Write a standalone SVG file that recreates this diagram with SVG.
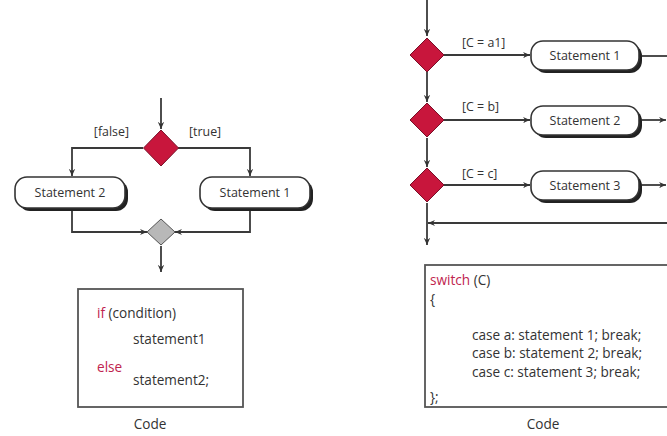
<svg xmlns="http://www.w3.org/2000/svg" width="667" height="436" viewBox="0 0 667 436">
<defs>
<marker id="ah" viewBox="0 0 10 10" refX="9" refY="5" markerWidth="8" markerHeight="8" orient="auto" markerUnits="userSpaceOnUse">
<path d="M0,1 L9,5 L0,9 L3,5 Z" fill="#333"/>
</marker>
<style>
.ln{fill:none;stroke:#3a3a3a;stroke-width:1.8}
.box{fill:#fff;stroke:#333;stroke-width:1.6}
.sh{fill:#222}
.red{fill:#c8163c;stroke:#7a1028;stroke-width:1}
.gray{fill:#b8b8b8;stroke:#555;stroke-width:1}
text{font-family:"Open Sans","Noto Sans","Liberation Sans",sans-serif;font-size:12.4px;fill:#333}
.kw{fill:#c0244e}
.lbl{text-anchor:middle;font-size:12.5px}
.cd{font-size:13.6px}
.code{fill:#fff;stroke:#555;stroke-width:1.8}
</style>
</defs>
<rect width="667" height="436" fill="#fff"/>
<g id="connectors">
<line class="ln" x1="161" y1="98" x2="161" y2="129" marker-end="url(#ah)"/>
<polyline class="ln" points="143,148 72,148 72,176" marker-end="url(#ah)"/>
<polyline class="ln" points="178,148 250,148 250,176" marker-end="url(#ah)"/>
<polyline class="ln" points="72,208 72,232 147,232" marker-end="url(#ah)"/>
<polyline class="ln" points="250,208 250,232 175,232" marker-end="url(#ah)"/>
<line class="ln" x1="161" y1="246" x2="161" y2="272" marker-end="url(#ah)"/>
<line class="ln" x1="427" y1="0" x2="427" y2="36" marker-end="url(#ah)"/>
<line class="ln" x1="427" y1="72" x2="427" y2="102" marker-end="url(#ah)"/>
<line class="ln" x1="427" y1="138" x2="427" y2="167" marker-end="url(#ah)"/>
<line class="ln" x1="427" y1="203" x2="427" y2="245" marker-end="url(#ah)"/>
<line class="ln" x1="444" y1="55" x2="530" y2="55" marker-end="url(#ah)"/>
<line class="ln" x1="444" y1="120" x2="530" y2="120" marker-end="url(#ah)"/>
<line class="ln" x1="444" y1="185" x2="530" y2="185" marker-end="url(#ah)"/>
<line class="ln" x1="642" y1="56" x2="667" y2="56"/>
<line class="ln" x1="642" y1="120" x2="666" y2="120" marker-end="url(#ah)"/>
<line class="ln" x1="642" y1="185" x2="666" y2="185" marker-end="url(#ah)"/>
<line class="ln" x1="667" y1="223" x2="428" y2="223" marker-end="url(#ah)"/>
</g>
<g id="decision-if">
<polygon class="red" points="161,130 178.5,148 161,166 143.5,148"/>
<text x="129" y="136" text-anchor="end">[false]</text>
<text x="189" y="136">[true]</text>
</g>
<g id="stmt2-left">
<rect class="sh" x="18" y="180" width="110" height="31" rx="12"/>
<rect class="box" x="15" y="177" width="110" height="31" rx="12"/>
<text class="lbl" x="70" y="197">Statement 2</text>
</g>
<g id="stmt1-left">
<rect class="sh" x="203" y="180" width="110" height="31" rx="12"/>
<rect class="box" x="200" y="177" width="110" height="31" rx="12"/>
<text class="lbl" x="255" y="197">Statement 1</text>
</g>
<g id="merge">
<polygon class="gray" points="161,219 175,232 161,245 147,232"/>
</g>
<g id="code-if">
<rect class="code" x="78" y="289" width="165" height="118"/>
<text class="cd" x="97" y="318"><tspan class="kw">if</tspan> (condition)</text>
<text class="cd" x="133" y="344">statement1</text>
<text class="cd kw" x="97" y="372">else</text>
<text class="cd" x="133" y="385">statement2;</text>
<text class="cd" x="150" y="429" text-anchor="middle">Code</text>
</g>
<g id="decision-a">
<polygon class="red" points="427,38 444,55 427,72 410,55"/>
<text x="462" y="47">[C = a1]</text>
</g>
<g id="decision-b">
<polygon class="red" points="427,103 444,120 427,137 410,120"/>
<text x="462" y="111">[C = b]</text>
</g>
<g id="decision-c">
<polygon class="red" points="427,168 444,185 427,202 410,185"/>
<text x="462" y="178">[C = c]</text>
</g>
<g id="stmt1-right">
<rect class="sh" x="534" y="44" width="108" height="29" rx="12"/>
<rect class="box" x="531" y="41" width="108" height="29" rx="12"/>
<text class="lbl" x="585" y="60">Statement 1</text>
</g>
<g id="stmt2-right">
<rect class="sh" x="534" y="109" width="108" height="29" rx="12"/>
<rect class="box" x="531" y="106" width="108" height="29" rx="12"/>
<text class="lbl" x="585" y="125">Statement 2</text>
</g>
<g id="stmt3-right">
<rect class="sh" x="534" y="174" width="108" height="29" rx="12"/>
<rect class="box" x="531" y="171" width="108" height="29" rx="12"/>
<text class="lbl" x="585" y="190">Statement 3</text>
</g>
<g id="code-switch">
<rect class="code" x="425" y="265" width="250" height="142"/>
<text class="cd" x="430" y="285"><tspan class="kw">switch</tspan> (C)</text>
<text class="cd" x="430" y="304">{</text>
<text class="cd" x="472" y="340">case a: statement 1; break;</text>
<text class="cd" x="472" y="358">case b: statement 2; break;</text>
<text class="cd" x="472" y="377">case c: statement 3; break;</text>
<text class="cd" x="430" y="402">};</text>
<text class="cd" x="543" y="429" text-anchor="middle">Code</text>
</g>
</svg>
